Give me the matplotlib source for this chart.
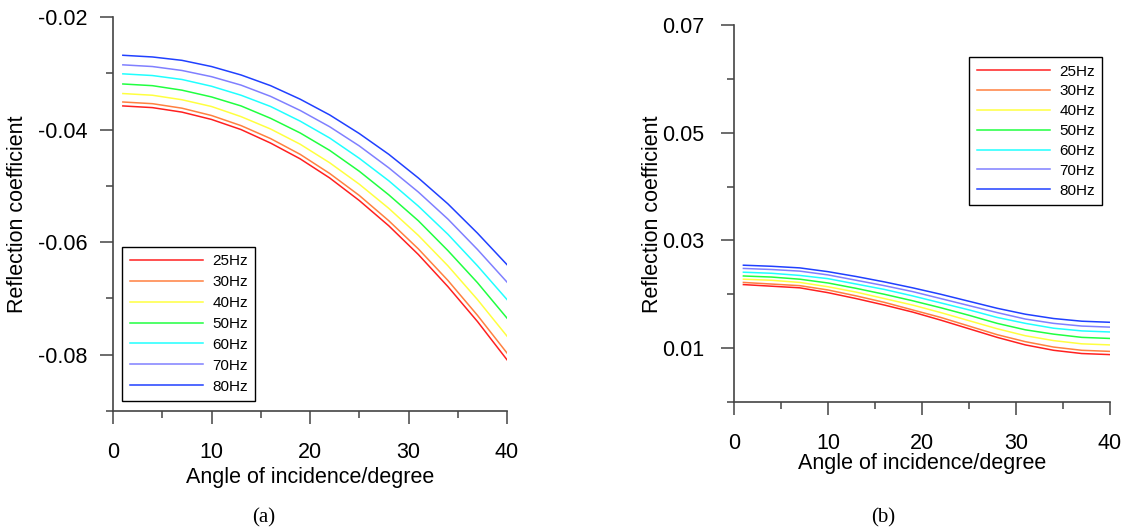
import matplotlib
matplotlib.use('Agg')
import matplotlib.pyplot as plt
from matplotlib.ticker import MultipleLocator, FixedLocator, FormatStrFormatter

plt.rcParams['font.family'] = ['Liberation Sans', 'DejaVu Sans']
plt.rcParams['axes.unicode_minus'] = False

# incidence angles (degree)
angles = [1, 4, 7, 10, 13, 16, 19, 22, 25, 28, 31, 34, 37, 40]

freqs = ['25Hz', '30Hz', '40Hz', '50Hz', '60Hz', '70Hz', '80Hz']
colors = ['#ff2020', '#ff8040', '#ffff40', '#20ff40', '#20ffff', '#8080ff', '#2040ff']

# panel (a)
a_25 = [-.0358, -.0361, -.0369, -.0382, -.0400, -.0424, -.0452, -.0486, -.0526, -.0571, -.0622, -.0679, -.0741, -.0809]
a_30 = [-.0351, -.0354, -.0362, -.0375, -.0393, -.0416, -.0444, -.0478, -.0517, -.0562, -.0612, -.0668, -.0730, -.0797]
a_40 = [-.0336, -.0339, -.0347, -.0359, -.0377, -.0399, -.0426, -.0459, -.0497, -.0540, -.0588, -.0642, -.0702, -.0767]
a_50 = [-.0319, -.0322, -.0330, -.0342, -.0358, -.0380, -.0406, -.0437, -.0474, -.0516, -.0562, -.0615, -.0672, -.0735]
a_60 = [-.0301, -.0304, -.0311, -.0323, -.0339, -.0359, -.0385, -.0415, -.0451, -.0491, -.0536, -.0586, -.0642, -.0702]
a_70 = [-.0285, -.0288, -.0295, -.0306, -.0321, -.0341, -.0366, -.0395, -.0429, -.0468, -.0511, -.0559, -.0613, -.0671]
a_80 = [-.0268, -.0271, -.0277, -.0288, -.0303, -.0322, -.0346, -.0374, -.0407, -.0444, -.0486, -.0532, -.0584, -.0640]

# panel (b)
b_25 = [.0218, .0215, .0212, .0203, .0192, .0180, .0167, .0152, .0136, .0120, .0106, .0096, .0090, .0088]
b_30 = [.0222, .0219, .0216, .0208, .0197, .0185, .0171, .0157, .0141, .0125, .0112, .0102, .0096, .0094]
b_40 = [.0228, .0226, .0222, .0214, .0204, .0192, .0180, .0166, .0151, .0136, .0123, .0114, .0108, .0106]
b_50 = [.0234, .0232, .0228, .0221, .0211, .0200, .0188, .0175, .0161, .0146, .0134, .0126, .0120, .0118]
b_60 = [.0241, .0239, .0235, .0229, .0219, .0209, .0197, .0184, .0171, .0157, .0146, .0137, .0132, .0130]
b_70 = [.0248, .0246, .0243, .0236, .0226, .0216, .0205, .0192, .0179, .0166, .0154, .0146, .0141, .0139]
b_80 = [.0254, .0252, .0249, .0242, .0233, .0223, .0212, .0200, .0187, .0174, .0163, .0155, .0150, .0148]

series_a = [a_25, a_30, a_40, a_50, a_60, a_70, a_80]
series_b = [b_25, b_30, b_40, b_50, b_60, b_70, b_80]

W, H = 1129, 531
FS = 15.5
AX_COLOR = '#444444'


def style_axes(ax):
    for side in ['top', 'right']:
        ax.spines[side].set_visible(False)
    for side in ['left', 'bottom']:
        ax.spines[side].set_color(AX_COLOR)
        ax.spines[side].set_linewidth(1.2)
    ax.xaxis.set_major_locator(MultipleLocator(10))
    ax.xaxis.set_minor_locator(MultipleLocator(5))
    ax.tick_params(which='major', length=9.5, width=1.1, color=AX_COLOR, labelsize=FS)
    ax.tick_params(which='minor', length=4.7, width=1.1, color=AX_COLOR)
    ax.tick_params(axis='x', which='major', pad=13)
    ax.tick_params(axis='y', which='major', pad=9)
    ax.set_xlim(0, 40)


def draw_lines(ax, series):
    for vals, name, c in zip(series, freqs, colors):
        ax.plot(angles, vals, color=c, lw=1.1, label=name)


def add_legend(ax, loc, anchor, spacing):
    leg = ax.legend(loc=loc, bbox_to_anchor=anchor, fontsize=11,
                    handlelength=4.8, handletextpad=0.6, labelspacing=spacing,
                    borderpad=0.5, borderaxespad=0, fancybox=False,
                    framealpha=1, edgecolor='black')
    leg.get_frame().set_linewidth(1.0)
    return leg


fig = plt.figure(figsize=(W / 100, H / 100), dpi=100)

# (a)
ax1 = fig.add_axes([113 / W, 1 - 411 / H, 394 / W, 394 / H])
draw_lines(ax1, series_a)
style_axes(ax1)
ax1.set_ylim(-0.09, -0.02)
ax1.yaxis.set_major_locator(MultipleLocator(0.02))
ax1.yaxis.set_minor_locator(MultipleLocator(0.01))
ax1.yaxis.set_major_formatter(FormatStrFormatter('%.2f'))
add_legend(ax1, 'lower left', (0.023, 0.025), 0.45)

# (b)
ax2 = fig.add_axes([734 / W, 1 - 402 / H, 376 / W, 377 / H])
draw_lines(ax2, series_b)
style_axes(ax2)
ax2.set_ylim(0, 0.07)
ax2.yaxis.set_major_locator(FixedLocator([0.01, 0.03, 0.05, 0.07]))
ax2.yaxis.set_minor_locator(FixedLocator([0.0, 0.02, 0.04, 0.06]))
ax2.yaxis.set_major_formatter(FormatStrFormatter('%.2f'))
ax2.tick_params(axis='y', which='major', pad=12)
add_legend(ax2, 'upper left', (0.625, 0.915), 0.38)

# axis titles and panel captions
fig.text(18 / W, 1 - 214 / H, 'Reflection coefficient', rotation=90,
         ha='center', va='center', fontsize=FS)
fig.text(310 / W, 1 - 477 / H, 'Angle of incidence/degree', ha='center', va='center', fontsize=FS)
fig.text(652 / W, 1 - 214 / H, 'Reflection coefficient', rotation=90,
         ha='center', va='center', fontsize=FS)
fig.text(922 / W, 1 - 463 / H, 'Angle of incidence/degree', ha='center', va='center', fontsize=FS)
fig.text(264 / W, 1 - 518 / H, '(a)', ha='center', va='center', fontsize=15,
         family='Liberation Serif')
fig.text(883 / W, 1 - 518 / H, '(b)', ha='center', va='center', fontsize=15,
         family='Liberation Serif')

fig.savefig('out.png', dpi=100)
plt.close(fig)
